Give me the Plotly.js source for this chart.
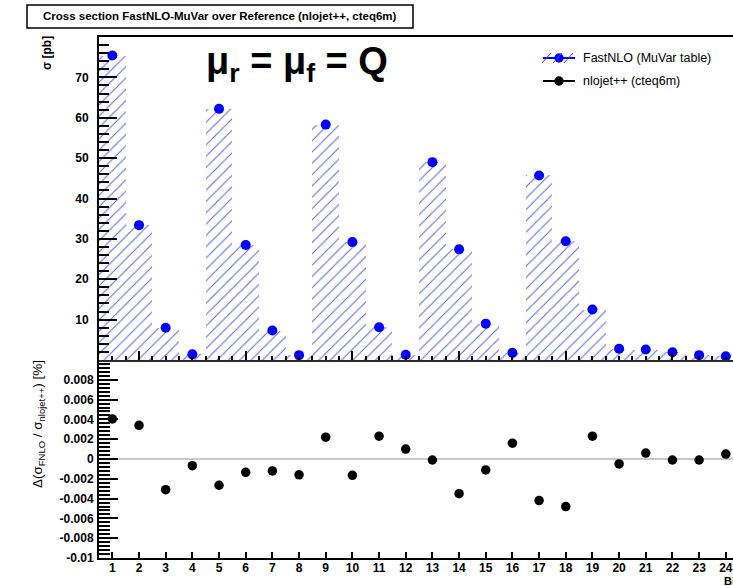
<!DOCTYPE html>
<html>
<head>
<meta charset="utf-8">
<script src="https://cdn.plot.ly/plotly-3.0.1.min.js"></script>
<style>html,body{margin:0;padding:0;background:#fff;}#chart{width:733px;height:586px;}</style>
</head>
<body>
<div id="chart"></div>
<script>
// ---- data ----
const bins = [1,2,3,4,5,6,7,8,9,10,11,12,13,14,15,16,17,18,19,20,21,22,23,24];
const binLabels = ["1","2","3","4","5","6","7","8","9","10","11","12","13","14","15","16","17","18","19","20","21","22","23","24"];
const fastnloXsec = [75.4,33.4,8.0,1.4,62.2,28.5,7.3,1.2,58.3,29.2,8.1,1.3,49.0,27.4,9.0,1.8,45.7,29.4,12.5,2.8,2.6,1.9,1.2,0.9];
const ratioPercent = [0.00405,0.0034,-0.0031,-0.00067,-0.00265,-0.00135,-0.0012,-0.0016,0.0022,-0.00165,0.0023,0.001,-0.0001,-0.0035,-0.0011,0.0016,-0.0042,-0.0048,0.0023,-0.0005,0.0006,-0.0001,-0.0001,0.0005];
const topTickVals = [10,20,30,40,50,60,70];
const topTickText = ["10","20","30","40","50","60","70"];
const lowTickVals = [-0.01,-0.008,-0.006,-0.004,-0.002,0,0.002,0.004,0.006,0.008];
const lowTickText = ["-0.01","-0.008","-0.006","-0.004","-0.002","0","0.002","0.004","0.006","0.008"];
const titleText = "Cross section FastNLO-MuVar over Reference (nlojet++, cteq6m)";
const legendNames = ["FastNLO (MuVar table)", "nlojet++ (cteq6m)"];

// ---- geometry helpers (pixel -> paper) ----
const W = 733, H = 586, ML = 99, MR = 0, MT = 37, MB = 28;
const PW = W - ML - MR, PH = H - MT - MB;
const px = x => (x - ML) / PW;
const py = y => (H - MB - y) / PH;
const FONT = "Liberation Sans, Arial, Helvetica, sans-serif";
const split = py(360);

const traces = [
  {
    type: 'bar', x: bins, y: fastnloXsec, xaxis: 'x2', yaxis: 'y2', width: 1,
    marker: {color: 'rgba(0,0,0,0)', line: {width: 0},
      pattern: {shape: '/', fgcolor: '#3344ee', bgcolor: 'rgba(0,0,0,0)', size: 8, solidity: 0.12, fgopacity: 0.85}},
    hoverinfo: 'skip'
  },
  {
    type: 'scatter', mode: 'markers', x: bins, y: fastnloXsec, xaxis: 'x2', yaxis: 'y2',
    marker: {color: '#0000ff', size: 10}, cliponaxis: false
  },
  {
    type: 'scatter', mode: 'markers', x: bins, y: ratioPercent, xaxis: 'x', yaxis: 'y',
    marker: {color: '#000000', size: 9.5}, cliponaxis: false
  }
];

const tickFont = {family: FONT, size: 12, color: '#000', weight: 'bold'};

// legend geometry
const lgx0 = 543, lgx1 = 575, lgy1 = 58, lgy2 = 81, r = 4.7;
const shapes = [
  // title box
  {type: 'rect', xref: 'paper', yref: 'paper', x0: px(27), x1: px(413), y0: py(28), y1: py(5),
   line: {color: '#000', width: 1.5}, fillcolor: '#fff'},
  // lower panel top frame
  {type: 'line', xref: 'paper', yref: 'paper', x0: 0, x1: 1, y0: py(361), y1: py(361), line: {color: '#555', width: 1}},
  // legend entry 1
  {type: 'line', xref: 'paper', yref: 'paper', x0: px(lgx0), x1: px(lgx1), y0: py(lgy1), y1: py(lgy1), line: {color: '#0000ff', width: 2}},
  {type: 'circle', xref: 'paper', yref: 'paper', x0: px(559 - r), x1: px(559 + r), y0: py(lgy1 + r), y1: py(lgy1 - r), line: {width: 0}, fillcolor: '#0000ff'},
  // legend entry 2
  {type: 'line', xref: 'paper', yref: 'paper', x0: px(lgx0), x1: px(lgx1), y0: py(lgy2), y1: py(lgy2), line: {color: '#000', width: 2}},
  {type: 'circle', xref: 'paper', yref: 'paper', x0: px(559 - r), x1: px(559 + r), y0: py(lgy2 + r), y1: py(lgy2 - r), line: {width: 0}, fillcolor: '#000'}
];
// legend hatch marks
[546, 557, 568].forEach(c => shapes.push({type: 'line', xref: 'paper', yref: 'paper',
  x0: px(c - 4), x1: px(c + 5), y0: py(lgy1 + 5), y1: py(lgy1 - 5), line: {color: '#3344ee', width: 1}}));

const annotations = [
  {xref: 'paper', yref: 'paper', x: px(220), y: py(16.5), text: titleText, showarrow: false,
   xanchor: 'center', yanchor: 'middle', font: {family: FONT, size: 11.5, color: '#000', weight: 'bold'}},
  {xref: 'paper', yref: 'paper', x: px(204), y: py(64), text: 'μ<sub>r</sub> = μ<sub>f</sub> = Q', showarrow: false,
   xanchor: 'left', yanchor: 'middle', font: {family: FONT, size: 38, color: '#000', weight: 'bold'}},
  {xref: 'paper', yref: 'paper', x: px(581), y: py(lgy1), text: legendNames[0], showarrow: false,
   xanchor: 'left', yanchor: 'middle', font: {family: FONT, size: 12.5, color: '#000'}},
  {xref: 'paper', yref: 'paper', x: px(581), y: py(lgy2), text: legendNames[1], showarrow: false,
   xanchor: 'left', yanchor: 'middle', font: {family: FONT, size: 12.5, color: '#000'}},
  {xref: 'paper', yref: 'paper', x: px(47), y: py(53), text: 'σ [pb]', showarrow: false, textangle: -90,
   xanchor: 'center', yanchor: 'middle', font: {family: FONT, size: 12, color: '#000', weight: 'bold'}},
  {xref: 'paper', yref: 'paper', x: px(38), y: py(424), text: 'Δ(σ<sub>FNLO</sub> / σ<sub>nlojet++</sub>) [%]', showarrow: false, textangle: -90,
   xanchor: 'center', yanchor: 'middle', font: {family: FONT, size: 13.5, color: '#000'}},
  {xref: 'paper', yref: 'paper', x: px(722), y: py(580.5), text: 'Bin', showarrow: false,
   xanchor: 'left', yanchor: 'middle', font: {family: FONT, size: 11, color: '#000', weight: 'bold'}}
];

const layout = {
  width: W, height: H,
  margin: {l: ML, r: MR, t: MT, b: MB, pad: 0},
  paper_bgcolor: '#fff', plot_bgcolor: '#fff',
  showlegend: false, bargap: 0,
  xaxis: {
    domain: [0, 1], anchor: 'y', range: [0.5, 24.27],
    showline: true, linecolor: '#000', linewidth: 2, showgrid: false, zeroline: false,
    ticks: 'inside', ticklen: 6, tickwidth: 2, tickcolor: '#000',
    tickmode: 'array', tickvals: bins, ticktext: binLabels, tickfont: tickFont, ticklabelstandoff: -2
  },
  yaxis: {
    domain: [0, split], anchor: 'x', range: [-0.01, 0.01],
    showline: true, linecolor: '#000', linewidth: 2, showgrid: false,
    zeroline: true, zerolinecolor: '#c8c8c8', zerolinewidth: 2,
    ticks: 'inside', ticklen: 19, tickwidth: 2, tickcolor: '#000',
    tickmode: 'array', tickvals: lowTickVals, ticktext: lowTickText, tickfont: tickFont, ticklabelstandoff: 1,
    minor: {ticks: 'inside', ticklen: 11, tickwidth: 2, tickcolor: '#000', dtick: 0.0004, tick0: 0, showgrid: false}
  },
  xaxis2: {
    domain: [0, 1], anchor: 'y2', range: [0.5, 24.27], matches: 'x',
    showline: true, mirror: true, linecolor: '#000', linewidth: 2, showgrid: false, zeroline: false,
    showticklabels: false,
    ticks: 'inside', ticklen: 9, tickwidth: 2, tickcolor: '#000', tick0: 2, dtick: 4,
    minor: {ticks: 'inside', ticklen: 4, tickwidth: 2, tickcolor: '#000', dtick: 0.5, tick0: 0.5, showgrid: false}
  },
  yaxis2: {
    domain: [split, 1], anchor: 'x2', range: [0, 80],
    showline: true, linecolor: '#000', linewidth: 2, showgrid: false, zeroline: false,
    ticks: 'inside', ticklen: 18, tickwidth: 2, tickcolor: '#000',
    tickmode: 'array', tickvals: topTickVals, ticktext: topTickText, tickfont: tickFont, ticklabelstandoff: 6,
    minor: {ticks: 'inside', ticklen: 10, tickwidth: 2, tickcolor: '#000', dtick: 2, tick0: 0, showgrid: false}
  },
  shapes: shapes,
  annotations: annotations
};

Plotly.newPlot('chart', traces, layout, {staticPlot: true, displayModeBar: false});
</script>
</body>
</html>
